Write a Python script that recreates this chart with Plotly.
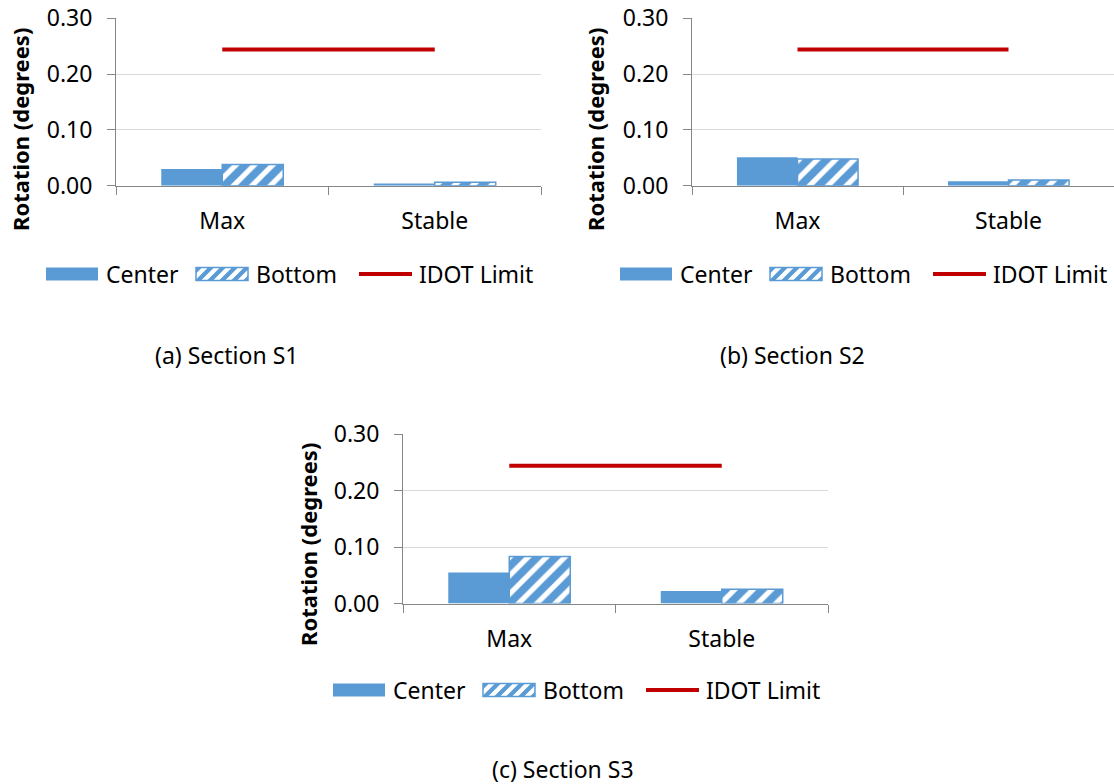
import plotly.graph_objects as go

# ---------------- data ----------------
categories = ["Max", "Stable"]
s1_center = [0.030, 0.004]
s1_bottom = [0.038, 0.006]
s2_center = [0.051, 0.008]
s2_bottom = [0.048, 0.010]
s3_center = [0.055, 0.022]
s3_bottom = [0.083, 0.025]
idot_limit = [0.244, 0.244]
y_tick_vals = [0.0, 0.1, 0.2, 0.3]
y_tick_text = ["0.00", "0.10", "0.20", "0.30"]
series_names = ["Center", "Bottom", "IDOT Limit"]
captions = ["(a) Section S1", "(b) Section S2", "(c) Section S3"]
y_title = "Rotation (degrees)"

# ---------------- styling / layout ----------------
W, H = 1114, 784
BLUE = "#5B9BD5"
RED = "#C00000"
GRID = "#D9D9D9"
AXIS = "#868686"
FONT = "Noto Sans"
FS = 23

panels = [
    dict(x0=116, x1=541, y0=18.3, y1=185.7, leg_l=46, leg_y=274, tx=20, ty=130, cx=226, cy=355,
         center=s1_center, bottom=s1_bottom, caption=captions[0]),
    dict(x0=692, x1=1114, y0=18.3, y1=185.7, leg_l=620, leg_y=274, tx=595, ty=130, cx=792, cy=355,
         center=s2_center, bottom=s2_bottom, caption=captions[1]),
    dict(x0=403, x1=828, y0=434, y1=603.5, leg_l=333, leg_y=690, tx=308, ty=545, cx=563, cy=769,
         center=s3_center, bottom=s3_bottom, caption=captions[2]),
]


def px(x):
    return x / W


def py(y):
    return 1 - y / H


fig = go.Figure()
shapes = []
annotations = []

for i, p in enumerate(panels, start=1):
    xa = "x" if i == 1 else f"x{i}"
    ya = "y" if i == 1 else f"y{i}"
    fig.add_trace(go.Bar(x=categories, y=p["center"], name=series_names[0],
                         marker=dict(color=BLUE, line=dict(width=0)),
                         xaxis=xa, yaxis=ya, offsetgroup="c", showlegend=False))
    fig.add_trace(go.Bar(x=categories, y=p["bottom"], name=series_names[1],
                         marker=dict(color="white",
                                     line=dict(color=BLUE, width=1.5),
                                     pattern=dict(shape="/", fgcolor=BLUE, bgcolor="white",
                                                  fgopacity=1, size=13, solidity=0.6)),
                         xaxis=xa, yaxis=ya, offsetgroup="b", showlegend=False))
    fig.add_trace(go.Scatter(x=categories, y=idot_limit, name=series_names[2],
                             mode="lines", line=dict(color=RED, width=4),
                             xaxis=xa, yaxis=ya, showlegend=False))

    xkey = "xaxis" if i == 1 else f"xaxis{i}"
    ykey = "yaxis" if i == 1 else f"yaxis{i}"
    fig.update_layout(**{
        xkey: dict(domain=[px(p["x0"]), min(1.0, px(p["x1"]))], anchor=ya,
                   type="category", range=[-0.5, 1.5], automargin=False,
                   showline=True, linecolor=AXIS, linewidth=1,
                   ticks="outside", tickson="boundaries", ticklen=8, tickcolor=AXIS,
                   showgrid=False, zeroline=False, ticklabelstandoff=15,
                   tickfont=dict(family=FONT, size=FS, color="black")),
        ykey: dict(domain=[py(p["y1"]), py(p["y0"])], anchor=xa,
                   range=[0, 0.3], tickvals=y_tick_vals, ticktext=y_tick_text,
                   automargin=False,
                   showline=True, linecolor=AXIS, linewidth=1,
                   ticks="outside", ticklen=8, tickcolor=AXIS,
                   showgrid=True, gridcolor=GRID, gridwidth=1, zeroline=False,
                   ticklabelstandoff=10,
                   tickfont=dict(family=FONT, size=FS, color="black")),
    })

    # y-axis title
    annotations.append(dict(text=f"<b>{y_title}</b>", x=px(p["tx"]), y=py(p["ty"]),
                            xref="paper", yref="paper", textangle=-90, showarrow=False,
                            xanchor="center", yanchor="middle",
                            font=dict(family=FONT, size=22, color="black")))
    # caption
    annotations.append(dict(text=p["caption"], x=px(p["cx"]), y=py(p["cy"]),
                            xref="paper", yref="paper", showarrow=False,
                            xanchor="center", yanchor="middle",
                            font=dict(family=FONT, size=FS, color="black")))

    # ---- legend (drawn as swatches + text) ----
    L, ly = p["leg_l"], p["leg_y"]
    sh = 13  # swatch height
    sw = 52  # swatch width
    # Center swatch
    shapes.append(dict(type="rect", xref="paper", yref="paper",
                       x0=px(L), x1=px(L + sw), y0=py(ly + sh / 2), y1=py(ly - sh / 2),
                       fillcolor=BLUE, line=dict(width=0)))
    annotations.append(dict(text=series_names[0], x=px(L + 58), y=py(ly), xref="paper", yref="paper",
                            showarrow=False, xanchor="left", yanchor="middle",
                            font=dict(family=FONT, size=FS, color="black")))
    # Bottom swatch (hatched)
    bx0 = L + 150
    bbot = ly + sh / 2
    shapes.append(dict(type="rect", xref="paper", yref="paper",
                       x0=px(bx0), x1=px(bx0 + sw), y0=py(bbot), y1=py(ly - sh / 2),
                       fillcolor="white", line=dict(width=0)))
    period, sw_w = 12.0, 6.0
    c = -sh
    while c < sw:
        poly = [(c, 0), (c + sw_w, 0), (c + sw_w + sh, sh), (c + sh, sh)]
        for bound, keep in ((0, lambda q: q[0] >= 0), (sw, lambda q: q[0] <= sw)):
            out = []
            n = len(poly)
            for k in range(n):
                a, b = poly[k], poly[(k + 1) % n]
                ina, inb = keep(a), keep(b)
                if ina:
                    out.append(a)
                if ina != inb:
                    t = (bound - a[0]) / (b[0] - a[0])
                    out.append((bound, a[1] + t * (b[1] - a[1])))
            poly = out
            if not poly:
                break
        if len(poly) >= 3:
            path = "M " + " L ".join(f"{px(bx0 + q[0]):.6f},{py(bbot - q[1]):.6f}" for q in poly) + " Z"
            shapes.append(dict(type="path", xref="paper", yref="paper", path=path,
                               fillcolor=BLUE, line=dict(width=0)))
        c += period
    shapes.append(dict(type="rect", xref="paper", yref="paper",
                       x0=px(bx0), x1=px(bx0 + sw), y0=py(bbot), y1=py(ly - sh / 2),
                       fillcolor="rgba(0,0,0,0)", line=dict(color=BLUE, width=1.5)))
    annotations.append(dict(text=series_names[1], x=px(bx0 + 58), y=py(ly), xref="paper", yref="paper",
                            showarrow=False, xanchor="left", yanchor="middle",
                            font=dict(family=FONT, size=FS, color="black")))
    # IDOT line swatch
    shapes.append(dict(type="line", xref="paper", yref="paper",
                       x0=px(L + 313), x1=px(L + 366), y0=py(ly), y1=py(ly),
                       line=dict(color=RED, width=4)))
    annotations.append(dict(text=series_names[2], x=px(L + 371), y=py(ly), xref="paper", yref="paper",
                            showarrow=False, xanchor="left", yanchor="middle",
                            font=dict(family=FONT, size=FS, color="black")))

fig.update_layout(
    width=W, height=H,
    margin=dict(l=0, r=0, t=0, b=0, autoexpand=False),
    paper_bgcolor="white", plot_bgcolor="white",
    barmode="group", bargap=0.426, bargroupgap=0,
    showlegend=False,
    shapes=shapes, annotations=annotations,
    font=dict(family=FONT, size=FS, color="black"),
)

fig.write_html("out.html", config={"displayModeBar": False},
               post_script="document.body.style.margin='0';")
